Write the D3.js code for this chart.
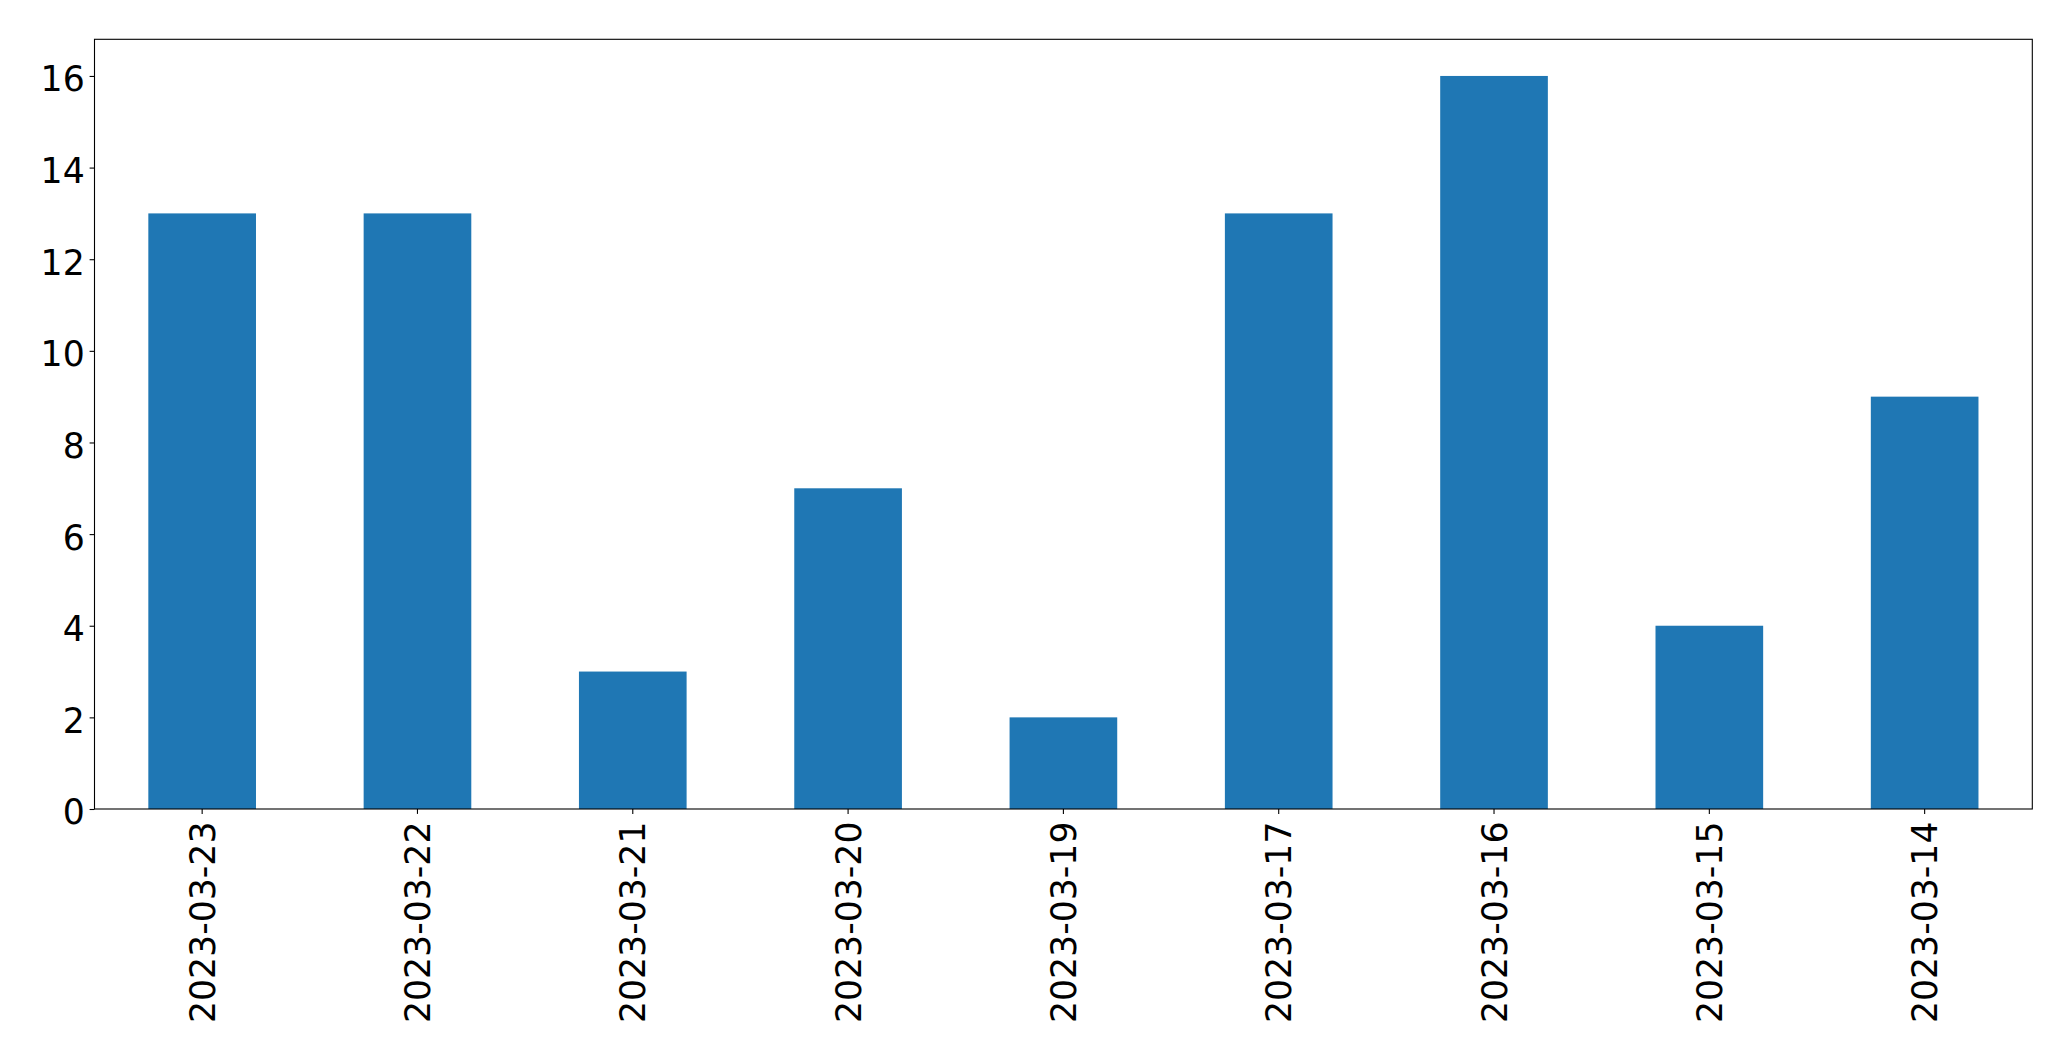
<!DOCTYPE html>
<html><head><meta charset="utf-8">
<script src="https://cdn.jsdelivr.net/npm/d3@7"></script>
<style>body{margin:0;background:#fff}svg{display:block}text{font-family:"DejaVu Sans",sans-serif}</style>
</head><body>
<script>
const categories = ["2023-03-23","2023-03-22","2023-03-21","2023-03-20","2023-03-19","2023-03-17","2023-03-16","2023-03-15","2023-03-14"];
const values = [13, 13, 3, 7, 2, 13, 16, 4, 9];
const yTicks = [0, 2, 4, 6, 8, 10, 12, 14, 16];

(function () {
const W = 2071, H = 1061;
const mLeft = 94.5, mRight = 2032.3, mTop = 39.3, mBottom = 809;
const fs = 34.7;

const svg = d3.select("body").append("svg").attr("width", W).attr("height", H);

const x = d3.scaleBand().domain(categories).range([mLeft, mRight]).paddingInner(0.5).paddingOuter(0.25);
const y = d3.scaleLinear().domain([0, 16.8]).range([mBottom, mTop]);

svg.append("g").selectAll("rect").data(values).join("rect")
  .attr("x", (d, i) => x(categories[i]))
  .attr("width", x.bandwidth())
  .attr("y", d => y(d))
  .attr("height", d => y(0) - y(d))
  .attr("fill", "#1f77b4");

svg.append("rect").attr("x", mLeft).attr("y", mTop).attr("width", mRight - mLeft).attr("height", mBottom - mTop)
  .attr("fill", "none").attr("stroke", "#000").attr("stroke-width", 1.1);

const ya = svg.append("g").attr("transform", `translate(${mLeft},0)`)
  .call(d3.axisLeft(y).tickValues(yTicks).tickSize(4.9).tickPadding(4.9).tickFormat(d3.format("d")));
ya.select(".domain").remove();
ya.selectAll("line").attr("stroke", "#000").attr("stroke-width", 1.1);
ya.selectAll("text").attr("font-size", fs).attr("fill", "#000").attr("dy", "0.43em")
  .style("font-family", '"DejaVu Sans",sans-serif');

const xa = svg.append("g").attr("transform", `translate(0,${mBottom})`)
  .call(d3.axisBottom(x).tickSize(4.9).tickPadding(0));
xa.select(".domain").remove();
xa.selectAll("line").attr("stroke", "#000").attr("stroke-width", 1.1);
xa.selectAll("text")
  .attr("font-size", fs).attr("fill", "#000")
  .style("font-family", '"DejaVu Sans",sans-serif')
  .attr("text-anchor", "end")
  .attr("dy", null)
  .attr("y", 0)
  .attr("transform", "translate(12.7,12.5) rotate(-90)");
})();
</script>
</body></html>
